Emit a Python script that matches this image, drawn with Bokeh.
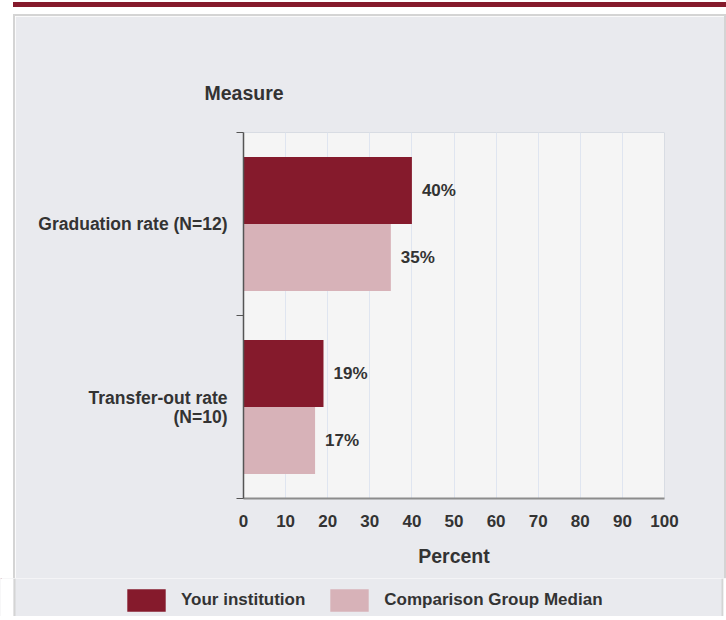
from bokeh.plotting import figure
from bokeh.models import ColumnDataSource, FixedTicker, Legend, LegendItem, Range1d
from bokeh.core.properties import value
from bokeh.embed import file_html
from bokeh.resources import INLINE

# ---- data ----
measures = ["Graduation rate (N=12)", "Transfer-out rate\n(N=10)"]
your_institution = [40, 19]
comparison_median = [35, 17]
x_ticks = [0, 10, 20, 30, 40, 50, 60, 70, 80, 90, 100]
series_names = ["Your institution", "Comparison Group Median"]

DARK = "#851a2c"
LIGHT = "#d7b2b8"
PANEL = "#e9eaee"
EDGE = "#d4d4d4"
TXT = "#333333"
FONT = "Liberation Sans"

# layout (page pixels)
OX, OY = 15, 16                       # main canvas origin on the page
W, H = 709, 562                       # main canvas size
FL, FR, FT, FB = 243, 664, 132, 498   # frame edges on the page
LEG_TOP, PAGE_W = OY + H, 726
LH = 38                               # legend strip height
LEG_BOTTOM = 614                      # bottom of legend swatches on the page

n = len(measures)
centers = [n - i - 0.5 for i in range(n)]
bar_h = 0.366

src_a = ColumnDataSource(dict(
    y=[c + bar_h / 2 for c in centers], v=your_institution,
    t=[f"{v}%" for v in your_institution]))
src_b = ColumnDataSource(dict(
    y=[c - bar_h / 2 for c in centers], v=comparison_median,
    t=[f"{v}%" for v in comparison_median]))

p = figure(width=W, height=H, output_backend="svg", toolbar_location=None,
           x_range=(0, 100), y_range=(0, n),
           frame_width=FR - FL, frame_height=FB - FT,
           min_border_left=FL - OX, min_border_right=W - (FR - OX),
           min_border_top=FT - OY, min_border_bottom=H - (FB - OY),
           background_fill_color="#f5f5f5", border_fill_color=PANEL,
           outline_line_color="#d8dce3",
           styles={"margin-left": "13px", "margin-top": "14px",
                   "border-left": f"2px solid {EDGE}",
                   "border-top": f"2px solid {EDGE}",
                   "border-right": f"2px solid {EDGE}",
                   "box-shadow": "0 -7px 0 0 white, 0 -12px 0 0 #851a2c"})

p.hbar(y="y", right="v", left=0, height=bar_h, source=src_a,
       fill_color=DARK, line_color=None)
p.hbar(y="y", right="v", left=0, height=bar_h, source=src_b,
       fill_color=LIGHT, line_color=None)

for src in (src_a, src_b):
    p.text(x="v", y="y", text="t", source=src, x_offset=10,
           text_align="left", text_baseline="middle",
           text_font=value(FONT), text_font_style="bold",
           text_font_size="17px", text_color=TXT)

# title "Measure" above the category labels
p.title.text = "Measure"
p.title.align = "left"
p.title.offset = 204 - FL
p.title.standoff = 58
p.title.text_font = FONT
p.title.text_font_style = "bold"
p.title.text_font_size = "19.5px"
p.title.text_color = TXT

# x axis
xa = p.xaxis[0]
xa.ticker = FixedTicker(ticks=x_ticks)
xa.axis_label = "Percent"
xa.axis_label_text_font = FONT
xa.axis_label_text_font_style = "bold"
xa.axis_label_text_font_size = "19.5px"
xa.axis_label_text_color = TXT
xa.axis_label_standoff = 15
xa.major_label_text_font = FONT
xa.major_label_text_font_style = "bold"
xa.major_label_text_font_size = "17px"
xa.major_label_text_color = TXT
xa.major_label_standoff = 10
xa.major_tick_line_color = None
xa.minor_tick_line_color = None
xa.axis_line_color = "#8c8c8c"
xa.axis_line_width = 2

# y axis
ya = p.yaxis[0]
ya.ticker = FixedTicker(ticks=centers, minor_ticks=list(range(n + 1)))
ya.major_label_overrides = {c: m for c, m in zip(centers, measures)}
ya.major_label_text_font = FONT
ya.major_label_text_font_style = "bold"
ya.major_label_text_font_size = "17.5px"
ya.major_label_text_color = TXT
ya.major_label_text_line_height = 0.95
ya.major_label_standoff = 9
ya.major_tick_line_color = None
ya.minor_tick_line_color = "#555555"
ya.minor_tick_out = 7
ya.minor_tick_in = 0
ya.axis_line_color = "#555555"
ya.axis_line_width = 1.5

p.xgrid.ticker = FixedTicker(ticks=x_ticks)
p.xgrid.grid_line_color = "#dfe5f0"
p.ygrid.grid_line_color = None

# ---- legend strip: a second root figure whose frame is the whole canvas ----
leg = figure(width=PAGE_W, height=LH, output_backend="svg", toolbar_location=None,
             title_location=None,
             x_range=Range1d(0, PAGE_W), y_range=Range1d(LH, 0),
             x_axis_type=None, y_axis_type=None,
             min_border_left=0, min_border_right=0, min_border_top=0,
             min_border_bottom=0, outline_line_color=None,
             background_fill_color=PANEL, border_fill_color=PANEL)
leg.grid.visible = False
strips = dict(left=[0, 13, 721, 723], right=[13, 15, 723, PAGE_W],
              color=["white", EDGE, EDGE, "white"])
leg.quad(left="left", right="right", top=0, bottom=LH, fill_color="color",
         line_color=None, source=ColumnDataSource(strips))
# legend proxies (kept outside the visible range)
proxy = ColumnDataSource(dict(y=[-1000], v=[1]))
g1 = leg.hbar(y="y", right="v", height=1, source=proxy,
              fill_color=DARK, line_color=None)
g2 = leg.hbar(y="y", right="v", height=1, source=proxy,
              fill_color=LIGHT, line_color=None)

legend = Legend(items=[LegendItem(label=series_names[0], renderers=[g1]),
                       LegendItem(label=series_names[1], renderers=[g2])],
                orientation="horizontal",
                location=(122, LEG_TOP + LH - LEG_BOTTOM),
                glyph_width=48, glyph_height=28, label_standoff=11, spacing=20,
                padding=0, margin=0, border_line_color=None,
                background_fill_alpha=0,
                label_text_font=FONT, label_text_font_style="bold",
                label_text_font_size="17px", label_text_color=TXT)
leg.add_layout(legend)

open("out.html", "w").write(file_html((p, leg), INLINE))
